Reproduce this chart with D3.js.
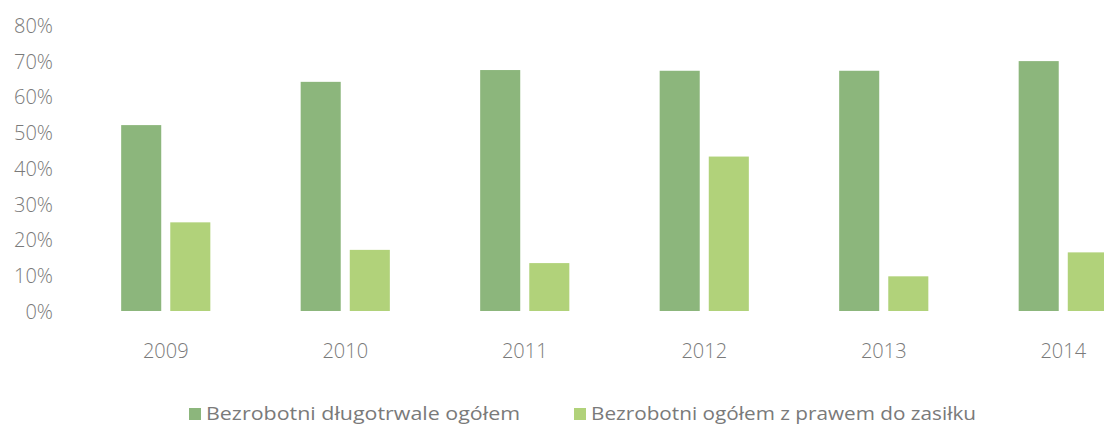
<!DOCTYPE html>
<html>
<head>
<meta charset="utf-8">
<script src="https://cdn.jsdelivr.net/npm/d3@7"></script>
<style>
  html, body { margin: 0; padding: 0; background: #fff; }
  svg text { font-family: "Open Sans", "Liberation Sans", sans-serif; fill: #7a7a7a; }
</style>
</head>
<body>
<div id="chart"></div>
<script>
// Data (percent)
const years = ["2009", "2010", "2011", "2012", "2013", "2014"];
const seriesNames = ["Bezrobotni długotrwale ogółem", "Bezrobotni ogółem z prawem do zasiłku"];
const longTerm = [52, 64.1, 67.4, 67.2, 67.2, 69.9];
const withBenefit = [24.8, 17.1, 13.4, 43.2, 9.7, 16.4];
const yTicks = [0, 10, 20, 30, 40, 50, 60, 70, 80];

const width = 1104, height = 429;
const colors = ["#8cb67c", "#b1d27a"];

const svg = d3.select("#chart").append("svg")
    .attr("width", width)
    .attr("height", height);

// The plot runs past the right edge, as in the cropped original
const x0 = d3.scaleBand()
    .domain(years)
    .range([76, 76 + 179.5 * years.length]);

const x1 = d3.scaleBand()
    .domain([0, 1])
    .range([0, x0.bandwidth()])
    .paddingInner(0.184)
    .paddingOuter(0.92);

const y = d3.scaleLinear()
    .domain([0, 80])
    .range([311, 25]);

// Y axis
const yAxis = svg.append("g")
    .attr("transform", "translate(53,1)")
    .call(d3.axisLeft(y).tickValues(yTicks).tickSize(0).tickPadding(0).tickFormat(d => d + "%"));
yAxis.select(".domain").remove();
yAxis.selectAll("text")
    .attr("font-size", 20)
    .attr("font-weight", 300)
    .attr("fill", "#7a7a7a");

// X axis
const xAxis = svg.append("g")
    .attr("transform", "translate(0,311)")
    .call(d3.axisBottom(x0).tickSize(0).tickPadding(33));
xAxis.select(".domain").remove();
xAxis.selectAll("text")
    .attr("font-size", 20)
    .attr("font-weight", 300)
    .attr("fill", "#7a7a7a");

// Bars
const rows = years.map((yr, i) => ({ year: yr, values: [longTerm[i], withBenefit[i]] }));

svg.append("g")
  .selectAll("g")
  .data(rows)
  .join("g")
    .attr("transform", d => `translate(${x0(d.year)},0)`)
  .selectAll("rect")
  .data(d => d.values.map((v, k) => ({ k, v })))
  .join("rect")
    .attr("x", d => x1(d.k))
    .attr("width", x1.bandwidth())
    .attr("y", d => y(d.v))
    .attr("height", d => y(0) - y(d.v))
    .attr("fill", d => colors[d.k]);

// Legend
const legendX = [189, 574];
const legendW = [314, 385];
const legend = svg.append("g");
seriesNames.forEach((name, k) => {
  legend.append("rect")
    .attr("x", legendX[k])
    .attr("y", 408)
    .attr("width", 12)
    .attr("height", 12)
    .attr("fill", colors[k]);
  legend.append("text")
    .attr("x", legendX[k] + 17)
    .attr("y", 420)
    .attr("font-size", 19)
    .attr("textLength", legendW[k])
    .attr("lengthAdjust", "spacingAndGlyphs")
    .text(name);
});
</script>
</body>
</html>
